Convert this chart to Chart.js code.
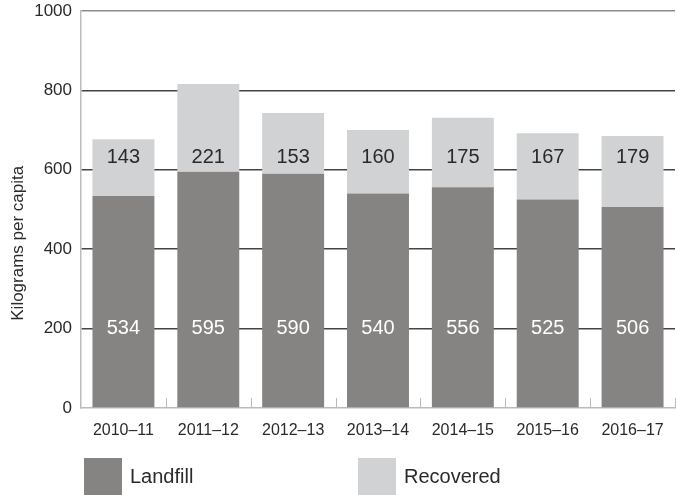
<!DOCTYPE html>
<html>
<head>
<meta charset="utf-8">
<script src="https://cdn.jsdelivr.net/npm/chart.js@4"></script>
<style>
  html, body { margin: 0; padding: 0; background: #fff; }
  #wrap { position: relative; width: 677px; height: 495px; }
  .legend { position: absolute; top: 458px; display: flex; align-items: center;
            font-family: "Liberation Sans", Arial, sans-serif; font-size: 20px; color: #2a2a2a; }
  .legend span.box { display: inline-block; width: 38px; height: 37px; margin-right: 8px; }
</style>
</head>
<body>
<div id="wrap">
  <canvas id="chartWaste" width="677" height="495"></canvas>
  <div class="legend" style="left:84px"><span class="box" style="background:#868483"></span>Landfill</div>
  <div class="legend" style="left:358px"><span class="box" style="background:#d1d2d4"></span>Recovered</div>
</div>
<script>
const years = ['2010–11', '2011–12', '2012–13', '2013–14', '2014–15', '2015–16', '2016–17'];
const landfill = [534, 595, 590, 540, 556, 525, 506];
const recovered = [143, 221, 153, 160, 175, 167, 179];
const yTicks = [0, 200, 400, 600, 800, 1000];

const font = '"Liberation Sans", Arial, sans-serif';

// value labels sit at fixed heights inside each segment
const barLabels = {
    id: 'barLabels',
    afterDatasetsDraw(chart) {
        const ctx = chart.ctx;
        const y = chart.scales.y;
        const x = chart.scales.x;
        ctx.save();
        ctx.font = '20px ' + font;
        ctx.textAlign = 'center';
        ctx.textBaseline = 'middle';
        years.forEach((_, i) => {
            const px = x.getPixelForValue(i);
            ctx.fillStyle = '#ffffff';
            ctx.fillText(landfill[i], px, y.getPixelForValue(200));
            ctx.fillStyle = '#2a2a2a';
            ctx.fillText(recovered[i], px, y.getPixelForValue(630));
        });

        // small tick marks between categories, pointing up from the baseline
        const base = y.getPixelForValue(0);
        ctx.strokeStyle = '#bbbbbb';
        ctx.lineWidth = 1;
        for (let i = 0; i < years.length; i++) {
            const bx = Math.round(x.getPixelForValue(i) + (x.width / years.length) / 2) + 0.5;
            ctx.beginPath();
            ctx.moveTo(bx, base);
            ctx.lineTo(bx, base - 10);
            ctx.stroke();
        }

        // axis title, sits a bit below the middle of the axis
        ctx.translate(18, y.getPixelForValue(415));
        ctx.rotate(-Math.PI / 2);
        ctx.font = '17px ' + font;
        ctx.fillStyle = '#2a2a2a';
        ctx.fillText('Kilograms per capita', 0, 0);
        ctx.restore();
    }
};

new Chart(document.getElementById('chartWaste'), {
    type: 'bar',
    data: {
        labels: years,
        datasets: [{
            label: 'Landfill',
            data: landfill,
            backgroundColor: '#868483',
            barPercentage: 1,
            categoryPercentage: 0.73
        }, {
            label: 'Recovered',
            data: recovered,
            backgroundColor: '#d1d2d4',
            barPercentage: 1,
            categoryPercentage: 0.73
        }]
    },
    options: {
        responsive: false,
        animation: false,
        layout: { padding: { top: 11, right: 2, bottom: 54, left: 0 } },
        plugins: {
            legend: { display: false },
            tooltip: { enabled: false }
        },
        scales: {
            x: {
                stacked: true,
                grid: { display: false, drawTicks: false },
                border: { color: '#bbbbbb', width: 1.5 },
                ticks: { color: '#2a2a2a', font: { family: font, size: 16 }, padding: 13 },
                afterFit: s => { s.height = 33; }
            },
            y: {
                stacked: true,
                min: 0,
                max: 1000,
                afterBuildTicks: s => { s.ticks = yTicks.map(v => ({ value: v })); },
                grid: {
                    drawTicks: false,
                    color: c => c.tick.value === 0 ? 'rgba(0,0,0,0)' : (c.tick.value === 1000 ? '#8a8a8a' : '#444444'),
                    lineWidth: 1.5
                },
                border: { color: '#bbbbbb', width: 1.5 },
                ticks: {
                    color: '#2a2a2a',
                    font: { family: font, size: 17 },
                    padding: 9,
                    callback: v => String(v)
                },
                afterFit: s => { s.width = 81; s.paddingTop = 0; s.paddingBottom = 0; }
            }
        }
    },
    plugins: [barLabels]
});
</script>
</body>
</html>
